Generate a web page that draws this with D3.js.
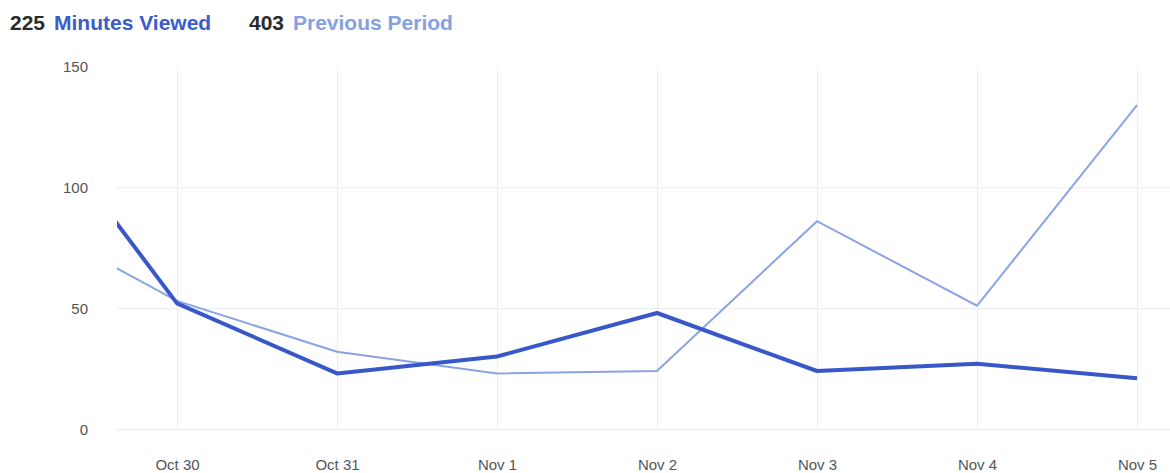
<!DOCTYPE html>
<html>
<head>
<meta charset="utf-8">
<script src="https://cdn.jsdelivr.net/npm/d3@7"></script>
<style>
  body { margin: 0; background: #fff; font-family: "Liberation Sans", Arial, sans-serif; }
  .grid line { stroke: #ececec; stroke-width: 1; }
  .grid path { display: none; }
  .axis text { fill: #555; font-size: 15px; }
  .axis path, .axis line { display: none; }
  .head { font-size: 21px; font-weight: bold; }
</style>
</head>
<body>
<div id="chart"></div>
<script>
const dates = ['2017-10-29', '2017-10-30', '2017-10-31', '2017-11-01', '2017-11-02', '2017-11-03', '2017-11-04', '2017-11-05'];
const minutesViewed = [140, 52, 23, 30, 48, 24, 27, 21];
const previousPeriod = [89, 53, 32, 23, 24, 86, 51, 134];
const yTicks = [0, 50, 100, 150];
const totals = { current: 225, previous: 403 };

const width = 1170;
const height = 473;
const plot = { left: 117, right: 1170, top: 66.5, bottom: 429 };

const parse = d3.timeParse('%Y-%m-%d');
const days = dates.map(parse);

const svg = d3.select('#chart')
    .append('svg')
    .attr('width', width)
    .attr('height', height);

// header totals
svg.append('text').attr('class', 'head').attr('x', 10).attr('y', 30)
    .attr('fill', '#2b2b2b').text(totals.current);
svg.append('text').attr('class', 'head').attr('x', 54).attr('y', 30)
    .attr('fill', '#3a5ccc').text('Minutes Viewed');
svg.append('text').attr('class', 'head').attr('x', 249).attr('y', 30)
    .attr('fill', '#2b2b2b').text(totals.previous);
svg.append('text').attr('class', 'head').attr('x', 293).attr('y', 30)
    .attr('fill', '#86a0e4').text('Previous Period');

const x = d3.scaleTime()
    .domain(d3.extent(days))
    .range([17, 1137]);

const y = d3.scaleLinear()
    .domain([0, 150])
    .range([plot.bottom, plot.top]);

// horizontal gridlines
svg.append('g')
    .attr('class', 'grid')
    .attr('transform', `translate(${plot.left},0)`)
    .call(d3.axisLeft(y).tickValues(yTicks.slice(0, 3)).tickSize(-(plot.right - plot.left)).tickFormat(''));

// vertical gridlines
svg.append('g')
    .attr('class', 'grid')
    .attr('transform', `translate(0,${plot.bottom})`)
    .call(d3.axisBottom(x).tickValues(days.slice(1)).tickSize(-(plot.bottom - plot.top)).tickFormat(''));

// y axis labels
svg.append('g')
    .attr('class', 'axis')
    .attr('transform', 'translate(88,0)')
    .call(d3.axisLeft(y).tickValues(yTicks).tickSize(0).tickPadding(0))
    .selectAll('text')
    .attr('dy', '0.36em');

// x axis labels
svg.append('g')
    .attr('class', 'axis')
    .attr('transform', `translate(0,${plot.bottom})`)
    .call(d3.axisBottom(x).tickValues(days.slice(1)).tickSize(0).tickPadding(30).tickFormat(d3.timeFormat('%b %-d')));

svg.append('clipPath')
    .attr('id', 'clip')
    .append('rect')
    .attr('x', plot.left)
    .attr('y', 0)
    .attr('width', plot.right - plot.left)
    .attr('height', height);

const line = d3.line()
    .x((d, i) => x(days[i]))
    .y(d => y(d));

const lines = svg.append('g').attr('clip-path', 'url(#clip)');

lines.append('path')
    .datum(previousPeriod)
    .attr('d', line)
    .attr('fill', 'none')
    .attr('stroke', '#8aa3e4')
    .attr('stroke-width', 2);

lines.append('path')
    .datum(minutesViewed)
    .attr('d', line)
    .attr('fill', 'none')
    .attr('stroke', '#3858ca')
    .attr('stroke-width', 4)
    .attr('stroke-linejoin', 'round');
</script>
</body>
</html>
